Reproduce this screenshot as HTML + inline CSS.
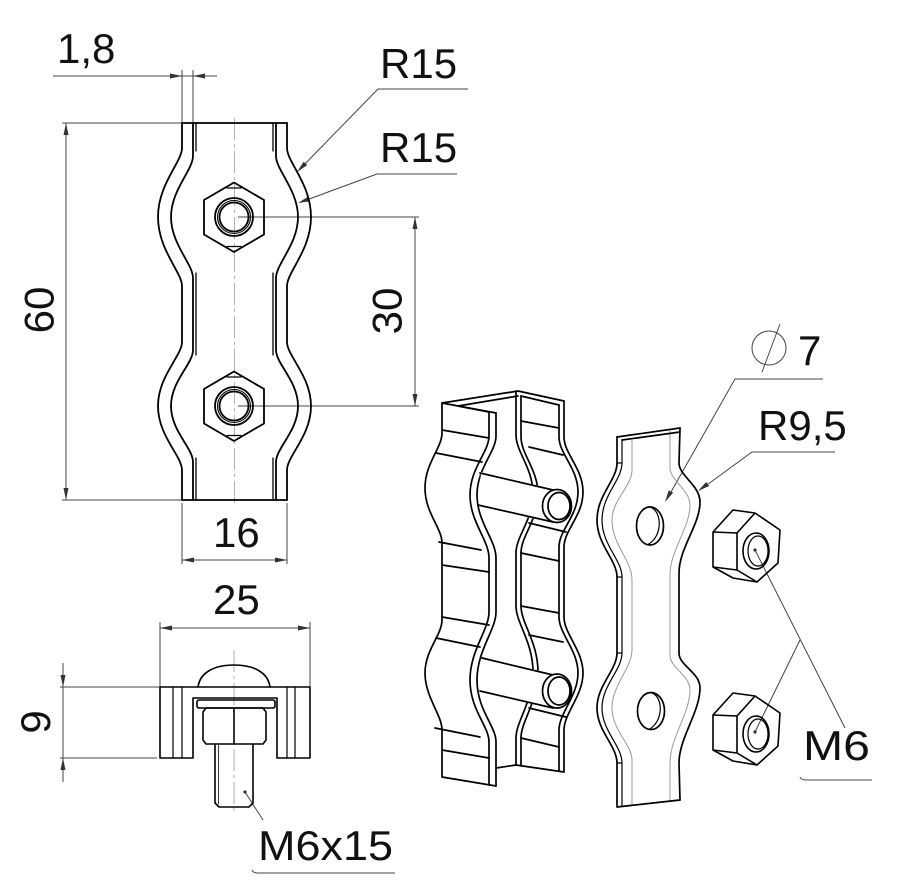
<!DOCTYPE html>
<html><head><meta charset="utf-8"><style>
html,body{margin:0;padding:0;background:#fff;width:903px;height:895px;overflow:hidden}
svg{display:block}
</style></head><body>
<svg width="903" height="895" viewBox="0 0 903 895" xmlns="http://www.w3.org/2000/svg">
<rect width="903" height="895" fill="#fff"/>

<!-- centerlines -->
<g stroke="#aaa" stroke-width="0.9" fill="none" stroke-dasharray="22 4 3 4">
  <line x1="234.5" y1="118" x2="234.5" y2="505"/>
  <line x1="234" y1="650" x2="234" y2="812"/>
</g>

<!-- dimension / leader thin lines -->
<g stroke="#444" stroke-width="1" fill="none">
  <line x1="53" y1="76" x2="217" y2="76"/>
  <line x1="182" y1="70" x2="182" y2="122"/>
  <line x1="193" y1="70" x2="193" y2="122"/>
  <line x1="62" y1="123" x2="182" y2="123"/>
  <line x1="62" y1="500" x2="182" y2="500"/>
  <line x1="66" y1="123" x2="66" y2="500"/>
  <line x1="238" y1="217" x2="419" y2="217"/>
  <line x1="238" y1="406" x2="419" y2="406"/>
  <line x1="415" y1="217" x2="415" y2="406"/>
  <line x1="182" y1="503" x2="182" y2="564"/>
  <line x1="287" y1="503" x2="287" y2="564"/>
  <line x1="182" y1="560" x2="287" y2="560"/>
  <line x1="160" y1="622" x2="160" y2="687"/>
  <line x1="310" y1="622" x2="310" y2="687"/>
  <line x1="160" y1="628" x2="310" y2="628"/>
  <line x1="60" y1="687" x2="160" y2="687"/>
  <line x1="60" y1="758" x2="157" y2="758"/>
  <line x1="63" y1="663" x2="63" y2="782"/>
  <polyline points="468,89 378,89 300,169"/>
  <polyline points="457,174 377,174 301,202"/>
  <circle cx="769" cy="348" r="17"/>
  <line x1="762" y1="372" x2="780" y2="324"/>
  <polyline points="823,379 735,379 667,499"/>
  <polyline points="835,452 752,452 700,490"/>
  <line x1="755" y1="550" x2="845" y2="728"/>
  <line x1="755" y1="732" x2="800" y2="640"/>
  <path d="M800,777 Q801,780 806,780 L872,780"/>
  <line x1="245" y1="792" x2="263" y2="820"/>
  <path d="M252,870 Q253,873 258,873 L395,873"/>
</g>

<!-- arrowheads -->
<g fill="#333" stroke="none">
  <polygon points="170,73.5 182,76 170,78.5"/>
  <polygon points="205,73.5 193,76 205,78.5"/>
  <polygon points="63.5,135 66,123 68.5,135"/>
  <polygon points="63.5,488 66,500 68.5,488"/>
  <polygon points="412.5,229 415,217 417.5,229"/>
  <polygon points="412.5,394 415,406 417.5,394"/>
  <polygon points="194,557.5 182,560 194,562.5"/>
  <polygon points="275,557.5 287,560 275,562.5"/>
  <polygon points="172,625.5 160,628 172,630.5"/>
  <polygon points="298,625.5 310,628 298,630.5"/>
  <polygon points="60.5,675 63,687 65.5,675"/>
  <polygon points="60.5,770 63,758 65.5,770"/>
  <polygon points="307.2,165.1 297,172 303.6,161.7"/>
  <polygon points="310.2,201.2 298,203 308.4,196.5"/>
  <polygon points="673.1,492.8 665,502 668.7,490.4"/>
  <polygon points="709.2,486 698,491 706.2,482"/>
  <circle cx="245" cy="792" r="1.6"/>
  <circle cx="755" cy="550" r="1.6"/>
  <circle cx="755" cy="732" r="1.6"/>
</g>

<!-- FRONT VIEW -->
<g fill="none" stroke="#000" stroke-width="1.8" stroke-linejoin="round" stroke-linecap="round">
  <line x1="182" y1="123" x2="287" y2="123"/>
  <line x1="182" y1="500" x2="287" y2="500"/>
  <path d="M182,123 L182,148 C182,162 158,184 158,217 C158,250 182,272 182,286 L182,342 C182,356 158,376 158,406 C158,436 182,456 182,470 L182,500"/>
  <path d="M193,123 L193,156 C193,170 171,190 171,217 C171,244 193,264 193,278 L193,350 C193,364 171,381 171,406 C171,431 193,448 193,462 L193,500"/>
  <path d="M196,123 L196,151 M196,273 L196,355 M196,458 L196,500" stroke-width="1.3"/>
  <path d="M287,123 L287,148 C287,162 311,184 311,217 C311,250 287,272 287,286 L287,342 C287,356 311,376 311,406 C311,436 287,456 287,470 L287,500"/>
  <path d="M276,123 L276,156 C276,170 298,190 298,217 C298,244 276,264 276,278 L276,350 C276,364 298,381 298,406 C298,431 276,448 276,462 L276,500"/>
  <path d="M273,123 L273,151 M273,273 L273,355 M273,458 L273,500" stroke-width="1.3"/>
  <polygon points="234,182.5 264,200 264,234.5 234,252 204,234.5 204,200"/>
  <path d="M227,188 L241,188 M227,246.5 L241,246.5" stroke-width="1.2"/>
  <circle cx="234" cy="217" r="19"/>
  <circle cx="234" cy="217" r="16.5" stroke-width="1.1"/>
  <circle cx="234" cy="217" r="14.5"/>
  <polygon points="234,371.5 264,389 264,423.5 234,441 204,423.5 204,389"/>
  <path d="M227,377 L241,377 M227,435.5 L241,435.5" stroke-width="1.2"/>
  <circle cx="234" cy="406" r="19"/>
  <circle cx="234" cy="406" r="16.5" stroke-width="1.1"/>
  <circle cx="234" cy="406" r="14.5"/>
</g>

<!-- SIDE VIEW -->
<g fill="none" stroke="#000" stroke-width="1.6" stroke-linejoin="round" stroke-linecap="round">
  <path d="M198,687 C200,672 215,665 234,665 C253,665 268,672 270,687"/>
  <path d="M160,687 L310,687 L310,758 L277,758 L277,698 L193,698 L193,758 L160,758 Z"/>
  <line x1="173" y1="687" x2="173" y2="758" stroke-width="1.2"/>
  <line x1="182" y1="687" x2="182" y2="758" stroke-width="1.2"/>
  <line x1="287" y1="687" x2="287" y2="758" stroke-width="1.2"/>
  <line x1="295" y1="687" x2="295" y2="758" stroke-width="1.2"/>
  <rect x="197" y="700" width="78" height="8" rx="2"/>
  <path d="M206,708 L263,708 L266,712 L266,740 L263,744 L206,744 L203,740 L203,712 Z"/>
  <line x1="234" y1="708" x2="234" y2="744"/>
  <path d="M215,744 L215,803 L219,807 L249,807 L253,803 L253,744"/>
  <line x1="218.5" y1="744" x2="218.5" y2="804" stroke-width="0.8"/>
</g>

<!-- ISO U-PART -->
<g fill="none" stroke="#000" stroke-width="1.7" stroke-linejoin="round" stroke-linecap="round">
  <polyline points="442,403 518,391 564,401"/>
  <line x1="442" y1="403" x2="496" y2="413"/>
  <polyline points="489,412 458,406 518,396"/>
  <line x1="521" y1="396" x2="559" y2="405"/>
  <path d="M442,403 L442,433 C442,448 425,463 425,488 C425,513 442,528 442,543 L442,620 C442,635 425,650 425,673 C425,697 442,715 442,730 L442,777 L496,786"/>
  <path d="M489,412 L489,436 C489,452 470,468 470,495 C470,522 489,540 489,558 L489,612 C489,630 470,650 470,680 C470,710 489,726 489,742 L489,785"/>
  <path d="M496,413 L496,436 C496,452 477,468 477,495 C477,522 496,540 496,558 L496,612 C496,630 477,650 477,680 C477,710 496,726 496,742 L496,786"/>
  <line x1="442" y1="430" x2="489" y2="438"/>
  <line x1="436" y1="453" x2="482" y2="462"/>
  <line x1="439" y1="542" x2="481" y2="550"/>
  <line x1="442" y1="565" x2="489" y2="572"/>
  <line x1="442" y1="617" x2="489" y2="625"/>
  <line x1="436" y1="638" x2="480" y2="647"/>
  <line x1="435" y1="728" x2="480" y2="737"/>
  <line x1="442" y1="750" x2="489" y2="758"/>
  <line x1="496" y1="768" x2="516" y2="765"/>
  <path d="M516,391 L516,435 C516,452 533,468 533,494 C533,520 516,536 516,553 L516,606 C516,623 533,642 533,672 C533,702 516,721 516,738 L516,765"/>
  <path d="M521,396 L521,437 C521,454 538,470 538,494 C538,520 521,536 521,553 L521,606 C521,623 538,642 538,672 C538,702 521,721 521,738 L521,766"/>
  <path d="M564,401 L564,437 C564,454 583,468 583,492 C583,516 564,530 564,547 L564,617 C564,634 583,650 583,673 C583,696 564,713 564,730 L564,772"/>
  <path d="M559,405 L559,437 C559,454 578,468 578,492 C578,516 559,530 559,547 L559,617 C559,634 578,650 578,673 C578,696 559,713 559,730 L559,771"/>
  <line x1="516" y1="765" x2="564" y2="772"/>
  <line x1="521" y1="421" x2="559" y2="428"/>
  <line x1="529" y1="447" x2="563" y2="455"/>
  <line x1="529" y1="523" x2="566" y2="532"/>
  <line x1="521" y1="553" x2="559" y2="561"/>
  <line x1="521" y1="606" x2="559" y2="613"/>
  <line x1="529" y1="635" x2="563" y2="642"/>
  <line x1="529" y1="708" x2="566" y2="717"/>
  <line x1="521" y1="738" x2="559" y2="747"/>
  <polygon points="481,472 553,489 572,506 553,523 479,506" fill="#fff" stroke="none"/>
  <line x1="480" y1="473" x2="553" y2="490"/>
  <line x1="478" y1="505" x2="553" y2="522"/>
  <ellipse cx="557" cy="506" rx="14.5" ry="16.5" fill="#fff"/>
  <ellipse cx="559" cy="506" rx="11" ry="13.5"/>
  <polygon points="483,657 553,674 572,691 553,709 481,692" fill="#fff" stroke="none"/>
  <line x1="482" y1="658" x2="553" y2="675"/>
  <line x1="480" y1="691" x2="553" y2="708"/>
  <ellipse cx="557" cy="691" rx="14.5" ry="17" fill="#fff"/>
  <ellipse cx="559" cy="691" rx="11" ry="14"/>
</g>

<!-- ISO PLATE -->
<g fill="none" stroke="#999" stroke-width="1">
  <path d="M632,440 L632,470 C632,486 612,500 612,520 C612,545 632,560 632,580 L632,650 C632,668 612,685 612,708 C612,730 632,745 632,760 L632,805"/>
  <path d="M670,430 L670,468 C670,480 690,490 690,505 C690,528 670,550 670,575 L670,655 C670,668 690,675 690,690 C690,713 670,738 670,763 L670,802"/>
</g>
<g fill="none" stroke="#000" stroke-width="1.7" stroke-linejoin="round" stroke-linecap="round">
  <line x1="617" y1="437" x2="680" y2="428"/>
  <line x1="622" y1="440" x2="680" y2="432"/>
  <path d="M617,437 L617,463 C617,480 597,495 597,520 C597,545 617,560 617,577 L617,653 C617,670 597,685 597,708 C597,731 617,746 617,763 L617,807 L680,800"/>
  <path d="M622,440 L622,463 C622,480 602,495 602,520 C602,545 622,560 622,577 L622,653 C622,670 602,685 602,708 C602,731 622,746 622,763 L622,806" stroke-width="1.2"/>
  <path d="M617,463 L622,463 M617,577 L622,577 M617,653 L622,653 M617,763 L622,763" stroke-width="1.2"/>
  <path d="M680,428 L679,463 C679,476 700,485 700,502 C700,525 679,548 679,573 L679,653 C679,666 700,672 700,688 C700,712 679,738 679,763 L680,800"/>
  <ellipse cx="650" cy="526" rx="13.5" ry="19"/>
  <path d="M651,507.5 C662,512 663,536 648,544.5" stroke-width="1.2"/>
  <ellipse cx="651" cy="711" rx="13.5" ry="18.5"/>
  <path d="M652,693 C663,697 664,721 649,729.5" stroke-width="1.2"/>
</g>

<!-- NUTS ISO -->
<g fill="none" stroke="#000" stroke-width="1.6" stroke-linejoin="round">
  <polygon points="733,510 755,513 780,530 778,563 757,582 733,578 713,567 713,532"/>
  <polyline points="755,513 737,533 737,570 757,582"/>
  <line x1="713" y1="532" x2="737" y2="533"/>
  <line x1="713" y1="567" x2="737" y2="570"/>
  <ellipse cx="756" cy="551" rx="13" ry="18"/>
  <ellipse cx="758" cy="551" rx="10" ry="15" stroke-width="1.2"/>
  <g transform="translate(0,183)">
    <polygon points="733,510 755,513 780,530 778,563 757,582 733,578 713,567 713,532"/>
    <polyline points="755,513 737,533 737,570 757,582"/>
    <line x1="713" y1="532" x2="737" y2="533"/>
    <line x1="713" y1="567" x2="737" y2="570"/>
    <ellipse cx="756" cy="551" rx="13" ry="18"/>
    <ellipse cx="758" cy="551" rx="10" ry="15" stroke-width="1.2"/>
  </g>
</g>

<!-- TEXT -->
<g font-family="'Liberation Sans', sans-serif" font-size="42" fill="#111">
  <text x="57" y="63">1,8</text>
  <text x="380" y="78">R15</text>
  <text x="380" y="162">R15</text>
  <text x="213" y="547">16</text>
  <text x="213" y="614">25</text>
  <text x="258" y="860" textLength="135" lengthAdjust="spacingAndGlyphs">M6x15</text>
  <text x="798" y="365">7</text>
  <text x="758" y="440">R9,5</text>
  <text x="803" y="760" textLength="67" lengthAdjust="spacingAndGlyphs">M6</text>
  <text transform="translate(38.5,310) rotate(-90)" x="0" y="15" text-anchor="middle">60</text>
  <text transform="translate(386.5,311) rotate(-90)" x="0" y="15" text-anchor="middle">30</text>
  <text transform="translate(35,722) rotate(-90)" x="0" y="15" text-anchor="middle">9</text>
</g>
</svg>
</body></html>
